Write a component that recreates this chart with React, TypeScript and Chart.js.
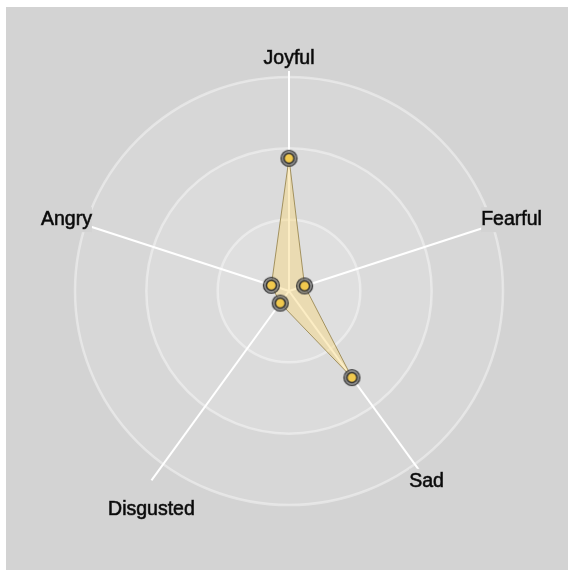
import React, { useEffect, useRef } from "react";
import { Chart, registerables } from "chart.js";

Chart.register(...registerables);

// ---- data ----
const LABELS = ["Joyful", "Fearful", "Sad", "Disgusted", "Angry"];
const VALUES = [1.86, 0.23, 1.5, 0.21, 0.26];
const RING_VALUES = [1, 2, 3];
const RING_MAX = 3;
const AXIS_MAX = 3.28;

// ---- styles ----
const BG = "#d3d3d3";
const LABEL_FONT = '19.5px "Liberation Sans", Arial, sans-serif';
const LABEL_OFFSETS = [
  { dx: 0, dy: 1.5 },
  { dx: 0, dy: 1 },
  { dx: 0, dy: 1 },
  { dx: 0, dy: 29 },
  { dx: 0, dy: 1 },
];

function makePointImage(): HTMLCanvasElement {
  const c = document.createElement("canvas");
  c.width = 19;
  c.height = 19;
  const g = c.getContext("2d")!;
  g.beginPath();
  g.arc(9.5, 9.5, 8, 0, Math.PI * 2);
  g.fillStyle = "rgba(110,110,110,0.7)";
  g.fill();
  g.lineWidth = 1.2;
  g.strokeStyle = "rgba(40,40,40,0.9)";
  g.stroke();
  g.beginPath();
  g.arc(9.5, 9.5, 5, 0, Math.PI * 2);
  g.fillStyle = "#f1c94e";
  g.fill();
  g.lineWidth = 1.5;
  g.strokeStyle = "#2e2e2e";
  g.stroke();
  return c;
}

const ringFillPlugin = {
  id: "ringFill",
  beforeDraw(chart: any) {
    const scale = chart.scales.r;
    const ctx = chart.ctx;
    ctx.save();
    [...RING_VALUES].reverse().forEach((v) => {
      const r = scale.getDistanceFromCenterForValue(v);
      ctx.beginPath();
      ctx.arc(scale.xCenter, scale.yCenter, r, 0, Math.PI * 2);
      ctx.fillStyle = "rgba(255,255,255,0.1)";
      ctx.fill();
    });
    ctx.restore();
  },
};

const labelPlugin = {
  id: "axisLabels",
  afterDraw(chart: any) {
    const scale = chart.scales.r;
    const ctx = chart.ctx;
    ctx.save();
    ctx.font = LABEL_FONT;
    ctx.textAlign = "center";
    ctx.textBaseline = "middle";
    LABELS.forEach((lab, i) => {
      const p = scale.getPointPosition(i, scale.drawingArea);
      const x = p.x + LABEL_OFFSETS[i].dx;
      const y = p.y + LABEL_OFFSETS[i].dy;
      const w = ctx.measureText(lab).width;
      ctx.fillStyle = BG;
      ctx.fillRect(x - w / 2, y - 12.5, w, 25);
      ctx.fillStyle = "#0a0a0a";
      ctx.strokeStyle = "rgba(10,10,10,0.8)";
      ctx.lineWidth = 0.7;
      ctx.fillText(lab, x, y);
      ctx.strokeText(lab, x, y);
    });
    ctx.restore();
  },
};

export default function App() {
  const ref = useRef<HTMLCanvasElement | null>(null);
  useEffect(() => {
    if (!ref.current) return;
    const img = makePointImage();
    const chart = new Chart(ref.current, {
      type: "radar",
      data: {
        labels: LABELS,
        datasets: [
          {
            data: VALUES,
            fill: true,
            backgroundColor: "rgba(248,215,125,0.45)",
            borderColor: "rgba(140,120,60,0.75)",
            borderWidth: 1,
            pointStyle: img as any,
            pointRadius: 8,
          },
        ],
      },
      options: {
        animation: false,
        responsive: false,
        layout: { padding: { left: 49, right: 45, top: 50, bottom: 45 } },
        plugins: { legend: { display: false }, tooltip: { enabled: false } },
        scales: {
          r: {
            min: 0,
            max: AXIS_MAX,
            ticks: { display: false, stepSize: 1 },
            grid: {
              circular: true,
              lineWidth: 2.5,
              color: (c: any) =>
                c.tick && c.tick.value > RING_MAX + 0.01
                  ? "rgba(0,0,0,0)"
                  : "rgba(255,255,255,0.4)",
            },
            angleLines: { color: "#ffffff", lineWidth: 2 },
            pointLabels: { display: false },
          },
        },
      },
      plugins: [ringFillPlugin, labelPlugin],
    });
    return () => chart.destroy();
  }, []);
  return (
    <div
      style={{
        position: "absolute",
        left: 6,
        top: 7,
        width: 562,
        height: 563,
        background: BG,
      }}
    >
      <canvas ref={ref} width={562} height={563} style={{ display: "block" }} />
    </div>
  );
}
